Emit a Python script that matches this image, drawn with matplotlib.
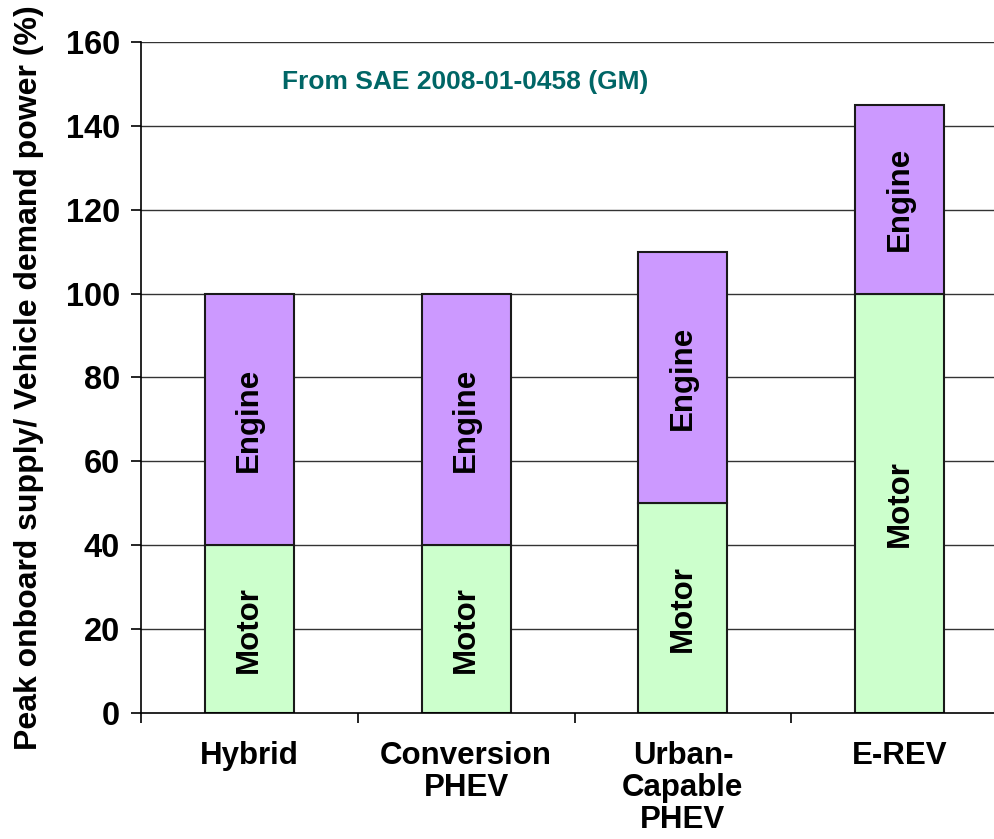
import matplotlib
matplotlib.use('Agg')
import matplotlib.pyplot as plt
import numpy as np

categories = ['Hybrid', 'Conversion\nPHEV', 'Urban-\nCapable\nPHEV', 'E-REV']
motor = [40, 40, 50, 100]
engine = [60, 60, 60, 45]
y_ticks = [0, 20, 40, 60, 80, 100, 120, 140, 160]

motor_color = '#CCFFCC'
engine_color = '#CC99FF'

plt.rcParams['font.family'] = ['Liberation Sans', 'DejaVu Sans']
plt.rcParams['font.weight'] = 'bold'

fig = plt.figure(figsize=(9.95, 8.39), dpi=100)
ax = fig.add_axes([0.1417, 0.1502, 0.8714, 0.7998])

x = np.arange(len(categories))
width = 0.41

# horizontal grid lines
for t in y_ticks[1:]:
    ax.axhline(t, color='#333333', lw=1.0, zorder=0)

ax.bar(x, motor, width, color=motor_color, edgecolor='#1a1a1a', lw=1.5, zorder=2)
ax.bar(x, engine, width, bottom=motor, color=engine_color, edgecolor='#1a1a1a', lw=1.5, zorder=2)

for i in range(len(categories)):
    ax.text(x[i], motor[i] / 2, 'Motor', rotation=90, ha='center', va='center',
            fontsize=22.5, fontweight='bold', zorder=3)
    ax.text(x[i], motor[i] + engine[i] / 2, 'Engine', rotation=90, ha='center', va='center',
            fontsize=22.5, fontweight='bold', zorder=3)

ax.text(0.374, 150.5, 'From SAE 2008-01-0458 (GM)', transform=ax.get_yaxis_transform(),
        ha='center', va='center', color='#006666', fontsize=19, fontweight='bold')

ax.set_xlim(-0.5, len(categories) - 0.5)
ax.set_ylim(0, 160)
ax.set_yticks(y_ticks)
ax.set_yticklabels([str(t) for t in y_ticks], fontsize=23.5, fontweight='bold')
ax.tick_params(axis='y', direction='out', length=7, width=1.2, pad=8)

# category boundaries as ticks, labels at centers
ax.set_xticks(np.arange(len(categories) + 1) - 0.5)
ax.set_xticklabels([])
ax.set_xticks(x, minor=True)
ax.set_xticklabels(categories, minor=True, fontsize=22.5, fontweight='bold', linespacing=1.1)
ax.tick_params(axis='x', which='major', direction='out', length=7, width=1.2)
ax.tick_params(axis='x', which='minor', length=0, pad=20)

ax.set_ylabel('Peak onboard supply/ Vehicle demand power (%)', fontsize=23, fontweight='bold')
ax.yaxis.set_label_coords(-0.112, 0.5)

ax.spines['right'].set_visible(False)
ax.spines['top'].set_visible(False)
ax.spines['left'].set_linewidth(1.2)
ax.spines['bottom'].set_linewidth(1.2)

fig.savefig('out.png', dpi=100)
